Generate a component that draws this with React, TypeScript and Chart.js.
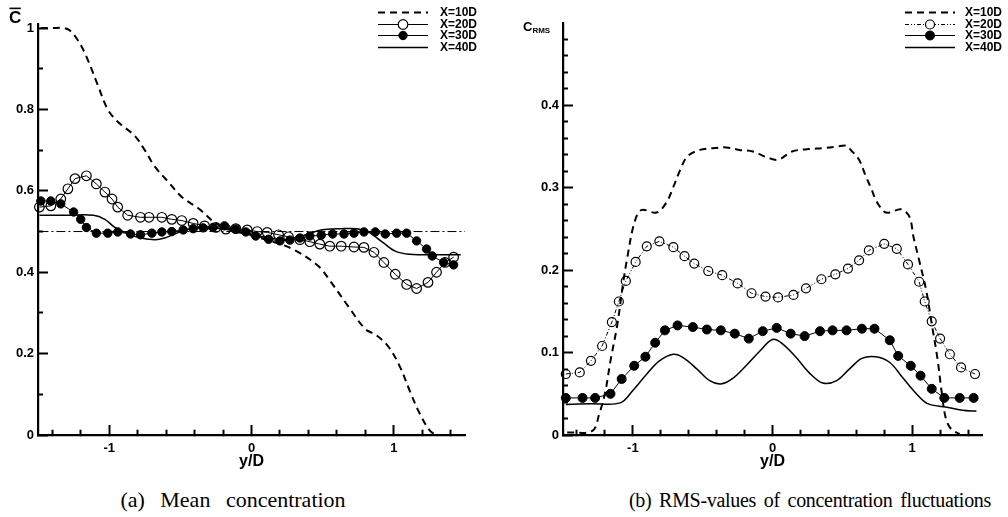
import React, { useEffect, useRef } from "react";
import { Chart, registerables } from "chart.js";

Chart.register(...registerables);

const SANS = '"Liberation Sans", Arial, Helvetica, sans-serif';
const SERIF = '"Liberation Serif", "Times New Roman", serif';

// ---------- (a) mean concentration, C-bar vs y/D ----------
const meanX10 = [-1.48, -1.4, -1.32, -1.28, -1.22, -1.16, -1.08, -1.01, -0.94, -0.82, -0.75, -0.68, -0.58, -0.49, -0.37, -0.25, -0.15, 0.0, 0.15, 0.3, 0.47, 0.56, 0.68, 0.8, 0.87, 0.96, 1.04, 1.11, 1.18, 1.25, 1.3, 1.36];
const meanY10 = [1.0, 1.0, 1.0, 0.995, 0.97, 0.93, 0.86, 0.8, 0.77, 0.735, 0.7, 0.66, 0.62, 0.585, 0.556, 0.52, 0.505, 0.49, 0.475, 0.455, 0.415, 0.375, 0.316, 0.26, 0.247, 0.218, 0.17, 0.11, 0.054, 0.012, 0.0, 0.0];

const meanX20 = [-1.49, -1.41, -1.34, -1.29, -1.24, -1.16, -1.09, -1.03, -0.98, -0.94, -0.87, -0.78, -0.72, -0.63, -0.56, -0.49, -0.41, -0.33, -0.25, -0.18, -0.11, -0.03, 0.04, 0.11, 0.19, 0.26, 0.34, 0.41, 0.48, 0.55, 0.63, 0.72, 0.79, 0.86, 0.93, 1.01, 1.09, 1.16, 1.24, 1.3, 1.36, 1.42];
const meanY20 = [0.56, 0.563, 0.58, 0.605, 0.63, 0.637, 0.617, 0.597, 0.58, 0.56, 0.54, 0.535, 0.535, 0.535, 0.53, 0.527, 0.52, 0.514, 0.51, 0.506, 0.507, 0.504, 0.5, 0.498, 0.492, 0.487, 0.48, 0.475, 0.469, 0.464, 0.464, 0.462, 0.461, 0.449, 0.424, 0.395, 0.37, 0.36, 0.375, 0.4, 0.424, 0.437];

const meanX30 = [-1.48, -1.41, -1.34, -1.25, -1.2, -1.16, -1.09, -1.01, -0.94, -0.85, -0.78, -0.7, -0.63, -0.56, -0.48, -0.41, -0.34, -0.27, -0.19, -0.11, -0.04, 0.03, 0.12, 0.2, 0.27, 0.34, 0.41, 0.49, 0.57, 0.65, 0.72, 0.79, 0.87, 0.94, 1.02, 1.09, 1.16, 1.23, 1.27, 1.35, 1.42];
const meanY30 = [0.575, 0.575, 0.568, 0.548, 0.53, 0.51, 0.496, 0.496, 0.499, 0.494, 0.492, 0.496, 0.499, 0.5, 0.504, 0.507, 0.509, 0.51, 0.514, 0.506, 0.499, 0.489, 0.481, 0.477, 0.479, 0.484, 0.489, 0.491, 0.494, 0.494, 0.496, 0.499, 0.499, 0.494, 0.496, 0.496, 0.477, 0.457, 0.44, 0.424, 0.418];

const meanX40 = [-1.49, -1.3, -1.11, -1.03, -0.96, -0.89, -0.8, -0.68, -0.61, -0.54, -0.46, -0.37, -0.28, -0.19, -0.1, 0.0, 0.1, 0.24, 0.32, 0.4, 0.49, 0.63, 0.74, 0.82, 0.92, 1.01, 1.11, 1.2, 1.47];
const meanY40 = [0.54, 0.54, 0.54, 0.53, 0.51, 0.498, 0.486, 0.48, 0.484, 0.494, 0.504, 0.511, 0.509, 0.506, 0.5, 0.493, 0.486, 0.48, 0.486, 0.494, 0.504, 0.507, 0.507, 0.499, 0.474, 0.452, 0.444, 0.443, 0.443];

// fully mixed level
const mixedX = [-1.49, 1.5];
const mixedY = [0.5, 0.5];

// ---------- (b) RMS of concentration fluctuations vs y/D ----------
const rmsX10 = [-1.47, -1.29, -1.24, -1.2, -1.16, -1.11, -1.07, -1.04, -0.99, -0.94, -0.83, -0.76, -0.71, -0.66, -0.61, -0.52, -0.43, -0.33, -0.24, -0.14, -0.04, 0.04, 0.14, 0.26, 0.36, 0.46, 0.53, 0.56, 0.62, 0.67, 0.71, 0.74, 0.8, 0.84, 0.92, 0.98, 1.01, 1.05, 1.1, 1.14, 1.18, 1.21, 1.24, 1.28, 1.34];
const rmsY10 = [0.003, 0.005, 0.026, 0.05, 0.09, 0.135, 0.184, 0.215, 0.257, 0.273, 0.27, 0.282, 0.301, 0.322, 0.338, 0.346, 0.348, 0.349, 0.346, 0.344, 0.337, 0.334, 0.344, 0.347, 0.348, 0.35, 0.351, 0.346, 0.334, 0.313, 0.298, 0.285, 0.271, 0.27, 0.274, 0.265, 0.24, 0.212, 0.176, 0.135, 0.094, 0.054, 0.021, 0.007, 0.001];

const rmsX20 = [-1.48, -1.38, -1.3, -1.22, -1.15, -1.1, -1.05, -0.98, -0.9, -0.81, -0.71, -0.63, -0.56, -0.46, -0.36, -0.25, -0.15, -0.05, 0.04, 0.15, 0.24, 0.35, 0.45, 0.54, 0.62, 0.69, 0.8, 0.89, 0.97, 1.05, 1.09, 1.14, 1.2, 1.27, 1.35, 1.45];
const rmsY20 = [0.074, 0.076, 0.09, 0.108, 0.137, 0.162, 0.187, 0.21, 0.229, 0.235, 0.228, 0.217, 0.208, 0.199, 0.194, 0.184, 0.172, 0.168, 0.167, 0.17, 0.178, 0.189, 0.195, 0.202, 0.212, 0.224, 0.232, 0.226, 0.207, 0.186, 0.162, 0.138, 0.117, 0.098, 0.082, 0.074];

const rmsX30 = [-1.48, -1.36, -1.27, -1.16, -1.08, -0.99, -0.91, -0.84, -0.77, -0.68, -0.57, -0.47, -0.37, -0.27, -0.17, -0.07, 0.03, 0.13, 0.23, 0.34, 0.43, 0.53, 0.64, 0.73, 0.84, 0.9, 0.99, 1.06, 1.14, 1.23, 1.34, 1.44];
const rmsY30 = [0.045, 0.045, 0.045, 0.05, 0.068, 0.084, 0.095, 0.112, 0.127, 0.133, 0.131, 0.128, 0.127, 0.123, 0.117, 0.126, 0.13, 0.123, 0.12, 0.126, 0.127, 0.127, 0.129, 0.129, 0.115, 0.096, 0.084, 0.072, 0.056, 0.045, 0.045, 0.045];

const rmsX40 = [-1.48, -1.3, -1.09, -1.0, -0.9, -0.81, -0.71, -0.64, -0.54, -0.45, -0.37, -0.29, -0.19, -0.09, 0.0, 0.07, 0.17, 0.26, 0.36, 0.46, 0.55, 0.64, 0.74, 0.84, 0.93, 1.03, 1.11, 1.24, 1.36, 1.46];
const rmsY40 = [0.037, 0.038, 0.039, 0.054, 0.074, 0.09, 0.098, 0.094, 0.08, 0.066, 0.062, 0.068, 0.084, 0.102, 0.116, 0.111, 0.094, 0.076, 0.063, 0.066, 0.08, 0.093, 0.095, 0.088, 0.07, 0.05, 0.038, 0.034, 0.03, 0.029];

// ---------- axis ticks ----------
const xMajor = [-1, 0, 1];
const xMinorStep = 0.2;
const meanYMajor = [0, 0.2, 0.4, 0.6, 0.8, 1];
const meanYMinorStep = 0.1;
const rmsYMajor = [0, 0.1, 0.2, 0.3, 0.4];
const rmsYMinorStep = 0.02;

const seriesLabels = ["X=10D", "X=20D", "X=30D", "X=40D"];

const pts = (xs: number[], ys: number[]) => xs.map((x, i) => ({ x, y: ys[i] }));

function stepTicks(min: number, max: number, step: number): number[] {
  const out: number[] = [];
  const n0 = Math.ceil(min / step - 1e-9);
  const n1 = Math.floor(max / step + 1e-9);
  for (let i = n0; i <= n1; i++) out.push(+(i * step).toFixed(4));
  return out;
}

const isMajor = (majors: number[], v: number) => majors.some((m) => Math.abs(m - v) < 1e-6);

// vertical-axis caption at the top of the axis
const captionPlugin = {
  id: "yCaption",
  afterDraw(chart: any, _args: any, opts: any) {
    const { ctx } = chart;
    ctx.save();
    ctx.fillStyle = "#000";
    ctx.strokeStyle = "#000";
    ctx.textBaseline = "alphabetic";
    ctx.textAlign = "left";
    ctx.font = `bold ${opts.size}px ${SANS}`;
    ctx.fillText(opts.main, opts.x, opts.y);
    const w = ctx.measureText(opts.main).width;
    if (opts.bar) {
      ctx.lineWidth = 1.6;
      ctx.beginPath();
      ctx.moveTo(opts.x + 0.5, opts.y - opts.size * 0.86);
      ctx.lineTo(opts.x + w - 0.5, opts.y - opts.size * 0.86);
      ctx.stroke();
    }
    if (opts.sub) {
      ctx.font = `bold ${opts.subSize}px ${SANS}`;
      ctx.fillText(opts.sub, opts.x + w, opts.y + 2);
    }
    ctx.restore();
  },
};

// line samples with markers, top right of the plot
const keyPlugin = {
  id: "seriesKey",
  afterDraw(chart: any, _args: any, opts: any) {
    const { ctx } = chart;
    ctx.save();
    chart.data.datasets.forEach((ds: any, i: number) => {
      if (!ds.label) return;
      const y = Math.round(opts.y + i * opts.gap) + 0.5;
      ctx.strokeStyle = "#000";
      ctx.lineWidth = ds.borderWidth;
      ctx.setLineDash(ds.borderDash || []);
      ctx.beginPath();
      ctx.moveTo(opts.x0, y);
      ctx.lineTo(opts.x1, y);
      ctx.stroke();
      ctx.setLineDash([]);
      if (ds.pointRadius > 0) {
        ctx.beginPath();
        ctx.arc((opts.x0 + opts.x1) / 2, y, ds.pointRadius, 0, Math.PI * 2);
        ctx.fillStyle = ds.keyFill;
        ctx.fill();
        ctx.lineWidth = ds.pointBorderWidth;
        ctx.stroke();
      }
      ctx.fillStyle = "#000";
      ctx.font = `bold ${opts.size}px ${SANS}`;
      ctx.textBaseline = "middle";
      ctx.textAlign = "left";
      ctx.fillText(ds.label, opts.tx, y + 0.5);
    });
    ctx.restore();
  },
};

function lineSet(label: string, data: any[], kind: string, dash: number[] = [], r = 4.5) {
  const base: any = {
    label,
    data,
    borderColor: "#000",
    backgroundColor: "#000",
    fill: false,
    clip: 8,
    tension: 0.35,
    pointRadius: 0,
    pointHoverRadius: 0,
  };
  if (kind === "dash") return { ...base, borderWidth: 2, borderDash: [7, 5] };
  if (kind === "open")
    return {
      ...base,
      tension: 0,
      borderWidth: 1,
      borderDash: dash,
      pointRadius: r,
      pointBorderWidth: 1.2,
      pointBorderColor: "#000",
      pointBackgroundColor: "rgba(255,255,255,0)",
      keyFill: "#fff",
    };
  if (kind === "filled")
    return {
      ...base,
      tension: 0,
      borderWidth: 1,
      pointRadius: r,
      pointBorderWidth: 1,
      pointBorderColor: "#000",
      pointBackgroundColor: "#000",
      keyFill: "#000",
    };
  if (kind === "ref") return { ...base, label: "", tension: 0, borderWidth: 1, borderDash: [9, 3, 2, 3] };
  return { ...base, borderWidth: 1.5 };
}

// inward tick marks: a negative tick length puts them inside the plot,
// and a dash pattern keeps only the half next to the axis for minor ticks
const MAJOR_LEN = 10;
function tickGrid(majors: number[], minorDash: number[]) {
  return {
    display: true,
    drawOnChartArea: false,
    drawTicks: true,
    tickLength: -MAJOR_LEN,
    tickWidth: 2,
    tickColor: "#000",
    tickBorderDash: (c: any) => (c.tick && isMajor(majors, c.tick.value) ? [20, 0] : minorDash),
  };
}

function makeScales(yMax: number, yTicks: number[], yMajor: number[]) {
  const tickFont = { family: SANS, size: 13, weight: "bold" as const };
  const xTicks = stepTicks(-1.5, 1.5, xMinorStep);
  return {
    x: {
      type: "linear",
      min: -1.5,
      max: 1.5,
      afterBuildTicks: (s: any) => {
        s.ticks = xTicks.map((value) => ({ value }));
      },
      afterFit: (s: any) => {
        s.height = 40;
      },
      grid: tickGrid(xMajor, [6.5, 30]),
      border: { display: true, width: 2.2, color: "#000" },
      ticks: {
        autoSkip: false,
        maxRotation: 0,
        padding: 6 + MAJOR_LEN,
        color: "#000",
        font: tickFont,
        callback: (v: number) => (isMajor(xMajor, v) ? String(+v.toFixed(2)) : ""),
      },
      title: {
        display: true,
        text: "y/D",
        color: "#000",
        font: { family: SANS, size: 16, weight: "bold" as const },
        padding: { top: 0, bottom: 4 },
      },
    },
    y: {
      type: "linear",
      min: 0,
      max: yMax,
      afterBuildTicks: (s: any) => {
        s.ticks = yTicks.map((value) => ({ value }));
      },
      afterFit: (s: any) => {
        s.width = 30;
      },
      grid: tickGrid(yMajor, [0.01, 5, 6.5, 30]),
      border: { display: true, width: 2.2, color: "#000" },
      ticks: {
        autoSkip: false,
        padding: 4 + MAJOR_LEN,
        color: "#000",
        font: tickFont,
        callback: (v: number) => (isMajor(yMajor, v) ? String(+v.toFixed(2)) : ""),
      },
    },
  };
}

const meanYTicks = stepTicks(0, 1.0, meanYMinorStep);
const rmsYTicks = stepTicks(0, 0.48, rmsYMinorStep);

const meanConfig: any = {
  type: "line",
  data: {
    datasets: [
      lineSet(seriesLabels[0], pts(meanX10, meanY10), "dash"),
      lineSet(seriesLabels[1], pts(meanX20, meanY20), "open", [], 4.8),
      lineSet(seriesLabels[2], pts(meanX30, meanY30), "filled", [], 4.2),
      lineSet(seriesLabels[3], pts(meanX40, meanY40), "solid"),
      lineSet("", pts(mixedX, mixedY), "ref"),
    ],
  },
  options: {
    responsive: false,
    animation: false,
    events: [],
    layout: { padding: { left: 8, right: 45, top: 24, bottom: 0 } },
    scales: makeScales(1.01, meanYTicks, meanYMajor),
    plugins: {
      legend: { display: false },
      tooltip: { enabled: false },
      yCaption: { main: "C", bar: true, x: 9, y: 23, size: 17 },
      seriesKey: { x0: 378, x1: 428, tx: 440, y: 12, gap: 11.5, size: 12 },
    },
  },
  plugins: [captionPlugin, keyPlugin],
};

const rmsConfig: any = {
  type: "line",
  data: {
    datasets: [
      lineSet(seriesLabels[0], pts(rmsX10, rmsY10), "dash"),
      lineSet(seriesLabels[1], pts(rmsX20, rmsY20), "open", [4, 2, 1, 2, 1, 2], 4.5),
      lineSet(seriesLabels[2], pts(rmsX30, rmsY30), "filled", [], 4.5),
      lineSet(seriesLabels[3], pts(rmsX40, rmsY40), "solid"),
    ],
  },
  options: {
    responsive: false,
    animation: false,
    events: [],
    layout: { padding: { left: 23, right: 26, top: 23, bottom: 0 } },
    scales: makeScales(0.5, rmsYTicks, rmsYMajor),
    plugins: {
      legend: { display: false },
      tooltip: { enabled: false },
      yCaption: { main: "C", sub: "RMS", bar: false, x: 13, y: 31, size: 13, subSize: 8 },
      seriesKey: { x0: 395, x1: 445, tx: 455, y: 12, gap: 11.5, size: 12 },
    },
  },
  plugins: [captionPlugin, keyPlugin],
};

function Panel({ config, left, width }: { config: any; left: number; width: number }) {
  const ref = useRef<HTMLCanvasElement | null>(null);
  useEffect(() => {
    if (!ref.current) return;
    const chart = new Chart(ref.current, config);
    return () => chart.destroy();
  }, [config]);
  return (
    <canvas
      ref={ref}
      width={width}
      height={475}
      style={{ position: "absolute", left, top: 0, width, height: 475 }}
    />
  );
}

const captionStyle: React.CSSProperties = {
  position: "absolute",
  top: 488,
  fontFamily: SERIF,
  lineHeight: "24px",
  textAlign: "center",
  whiteSpace: "nowrap",
  color: "#000",
};

export default function App() {
  return (
    <div
      style={{
        position: "fixed",
        left: 0,
        top: 0,
        width: 1008,
        height: 517,
        background: "#fff",
        overflow: "hidden",
      }}
    >
      <Panel config={meanConfig} left={0} width={510} />
      <Panel config={rmsConfig} left={510} width={498} />
      <div style={{ ...captionStyle, left: 0, width: 466, fontSize: 22, wordSpacing: 10 }}>
        (a) Mean concentration
      </div>
      <div
        style={{
          ...captionStyle,
          left: 610,
          width: 400,
          fontSize: 20,
          wordSpacing: 3,
          letterSpacing: -0.3,
        }}
      >
        (b) RMS-values of concentration fluctuations
      </div>
    </div>
  );
}
